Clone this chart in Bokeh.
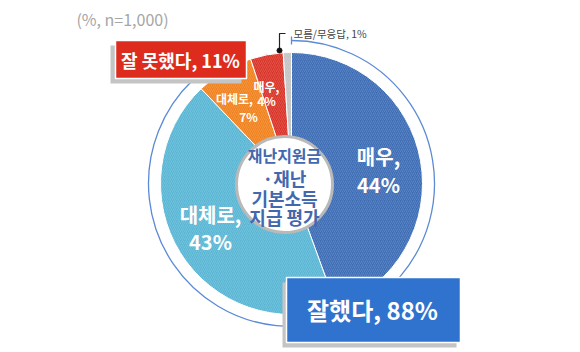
import numpy as np
from bokeh.plotting import figure
from bokeh.models import Range1d, ColumnDataSource
from bokeh.core.properties import value
from bokeh.embed import file_html
from bokeh.resources import INLINE

# ---- data ----
categories = ["매우", "대체로", "대체로", "매우", "모름/무응답"]
groups = ["잘했다", "잘했다", "잘 못했다", "잘 못했다", "모름/무응답"]
values = [44, 43, 7, 4, 1]
group_names = ["잘했다", "잘 못했다"]
group_values = [88, 11]
center_title = ["재난지원금", "·재난", "기본소득", "지급 평가"]
note = "(%, n=1,000)"

# ---- layout / style ----
W, H = 580, 352
def Y(y):
    return H - y

CX, CY, R = 291, Y(183), 131
ARC_R = 143
colors = ["#3d6db5", "#5ab6d4", "#f0821f", "#d9352a", "#c4c4c4"]
FONT = value("Noto Sans CJK KR")

total = float(sum(values))
cum = np.cumsum(values)
prev = cum - np.array(values)
start = np.pi / 2 - 2 * np.pi * prev / total
end = np.pi / 2 - 2 * np.pi * cum / total

p = figure(width=W, height=H, output_backend="svg", toolbar_location=None,
           x_range=Range1d(0, W), y_range=Range1d(0, H), min_border=0)
p.axis.visible = False
p.grid.visible = False
p.outline_line_color = None
p.background_fill_color = "white"
p.border_fill_color = "white"

src = ColumnDataSource(dict(x=[CX] * len(values), y=[CY] * len(values),
                            start=start, end=end, color=colors))
p.wedge(x="x", y="y", radius=R, start_angle="start", end_angle="end",
        direction="clock", fill_color="color", line_color="white", line_width=1,
        hatch_pattern="/", hatch_color="white", hatch_alpha=0.15,
        hatch_scale=4, hatch_weight=1, source=src)

# outer arc for the "잘했다" group
good_end = np.pi / 2 - 2 * np.pi * (values[0] + values[1]) / total
p.arc(x=[CX], y=[CY], radius=ARC_R, start_angle=np.pi / 2, end_angle=good_end,
      direction="clock", line_color="#5b8ad6", line_width=1.3)
for a in [np.pi / 2, good_end]:
    p.segment(x0=[CX + (ARC_R - 4) * np.cos(a)], y0=[CY + (ARC_R - 4) * np.sin(a)],
              x1=[CX + (ARC_R + 4) * np.cos(a)], y1=[CY + (ARC_R + 4) * np.sin(a)],
              line_color="#5b8ad6", line_width=1.3)

# inner circle
p.scatter(x=[284], y=[Y(184)], size=96, marker="circle", fill_color="white",
          line_color="#b9b9b9", line_width=3)
title_y = [154, 177, 197, 216]
title_size = ["16px", "18px", "18px", "18px"]
for t, yy, fs in zip(center_title, title_y, title_size):
    p.text(x=[284], y=[Y(yy)], text=[t], text_font=FONT, text_font_style="bold",
           text_font_size=fs, text_color="#4468ad", text_align="center",
           text_baseline="middle")

# slice labels
big_pos = [(378, 156, 184), (210, 214, 241)]
for i, (lx, ly1, ly2) in enumerate(big_pos):
    p.text(x=[lx], y=[Y(ly1)], text=[categories[i] + ","], text_font=FONT,
           text_font_style="bold", text_font_size="20px", text_color="white",
           text_align="center", text_baseline="middle")
    p.text(x=[lx], y=[Y(ly2)], text=[f"{values[i]}%"], text_font=FONT,
           text_font_style="bold", text_font_size="20px", text_color="white",
           text_align="center", text_baseline="middle")

small_pos = [(2, 234, 98, 116), (3, 266, 86, 100)]
for i, lx, ly1, ly2 in small_pos:
    p.text(x=[lx], y=[Y(ly1)], text=[categories[i] + ","], text_font=FONT,
           text_font_style="bold", text_font_size="12px", text_color="white",
           text_align="center", text_baseline="middle")
    p.text(x=[lx + (14 if i == 2 else 0)], y=[Y(ly2)], text=[f"{values[i]}%"], text_font=FONT,
           text_font_style="bold", text_font_size="12px", text_color="white",
           text_align="center", text_baseline="middle")

# 모름/무응답 leader
p.line(x=[285, 279, 279], y=[Y(33), Y(33), Y(50)], line_color="#222", line_width=1.2)
p.scatter(x=[279], y=[Y(50)], size=5, marker="circle", fill_color="#111", line_color="#111")
p.text(x=[293], y=[Y(33)], text=[f"{categories[4]}, {values[4]}%"], text_font=FONT,
       text_font_size="10.5px", text_color="#444", text_align="left", text_baseline="middle")

# note
p.text(x=[122], y=[Y(18)], text=[note], text_font=FONT, text_font_size="16px",
       text_color="#a6a6a6", text_align="center", text_baseline="middle")

# group boxes
# 잘 못했다
p.quad(left=[110], right=[241], top=[Y(45)], bottom=[Y(83)], fill_color="#c4c4c4", line_color=None)
p.quad(left=[115], right=[246], top=[Y(40)], bottom=[Y(78)], fill_color="#dd2b1e",
       line_color="white", line_width=1.5)
p.text(x=[180], y=[Y(59)], text=[f"{group_names[1]}, {group_values[1]}%"], text_font=FONT,
       text_font_style="bold", text_font_size="18px", text_color="white",
       text_align="center", text_baseline="middle")
# 잘했다
p.quad(left=[282], right=[456], top=[Y(282)], bottom=[Y(347)], fill_color="#c4c4c4", line_color=None)
p.quad(left=[286], right=[460], top=[Y(277)], bottom=[Y(342)], fill_color="#2f73cf",
       line_color="white", line_width=1.5)
p.text(x=[372], y=[Y(309)], text=[f"{group_names[0]}, {group_values[0]}%"], text_font=FONT,
       text_font_style="bold", text_font_size="24px", text_color="white",
       text_align="center", text_baseline="middle")

open("out.html", "w").write(file_html(p, INLINE))
